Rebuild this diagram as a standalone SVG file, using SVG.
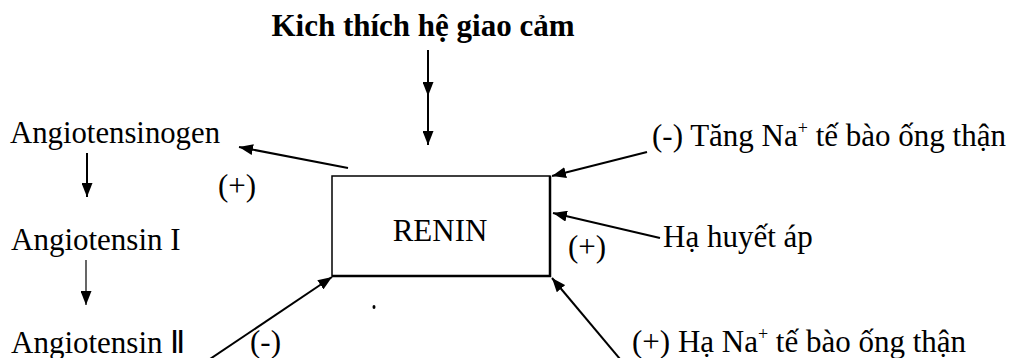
<svg xmlns="http://www.w3.org/2000/svg" width="1021" height="358" viewBox="0 0 1021 358">
<style>
text{font-family:"Liberation Serif","Times New Roman",serif;font-size:31px;fill:#000}
.b{font-weight:bold}
.c{stroke:#000;stroke-width:2;fill:none;marker-end:url(#ah)}
.thin{stroke-width:1.2}
.sup{font-size:18px}
</style>
<defs>
<marker id="ah" markerWidth="14" markerHeight="11" refX="14" refY="5.5" orient="auto" markerUnits="userSpaceOnUse">
<path d="M0,0 L14,5.5 L0,11 Z" fill="#000"/>
</marker>
</defs>
<rect width="1021" height="358" fill="#fff"/>
<g id="title"><text class="b" x="423" y="36" text-anchor="middle">Kich thích hệ giao cảm</text></g>
<g id="renin">
<rect x="332" y="176" width="218" height="100" fill="#fff" stroke="#000" stroke-width="1.5"/>
<path d="M550,176 L550,276 L332,276" fill="none" stroke="#000" stroke-width="2.5"/>
<text x="440" y="241" text-anchor="middle">RENIN</text>
</g>
<g id="angiotensinogen"><text x="10" y="143" textLength="210" lengthAdjust="spacingAndGlyphs">Angiotensinogen</text></g>
<g id="angiotensin1"><text x="11" y="250">Angiotensin I</text></g>
<g id="angiotensin2"><text x="11" y="353">Angiotensin Ⅱ</text></g>
<g id="tang-na"><text x="652" y="146">(-)  Tăng Na<tspan class="sup" dy="-12">+</tspan><tspan dy="12"> tế bào ống thận</tspan></text></g>
<g id="ha-huyet-ap"><text x="663" y="247">Hạ huyết áp</text></g>
<g id="ha-na"><text x="632" y="352">(+) Hạ Na<tspan class="sup" dy="-12">+</tspan><tspan dy="12"> tế bào ống thận</tspan></text></g>
<g id="labels">
<text x="218" y="196">(+)</text>
<text x="568" y="257">(+)</text>
<text x="250" y="352">(-)</text>
</g>
<g id="connectors">
<path class="c" d="M428,50 L428,96 L428,145" style="marker-mid:url(#ah)"/>
<path class="c" d="M348,168 L239,147"/>
<path class="c" d="M87,153 L87,197"/>
<path class="c thin" d="M86,260 L86,305"/>
<path class="c" d="M210,359 L332,277"/>
<path class="c" d="M647,152 L552,176"/>
<path class="c" d="M660,238 L553,213"/>
<path class="c" d="M620,359 L552,278"/>
</g>
<ellipse cx="374" cy="307" rx="1.5" ry="2" fill="#000"/>
</svg>
